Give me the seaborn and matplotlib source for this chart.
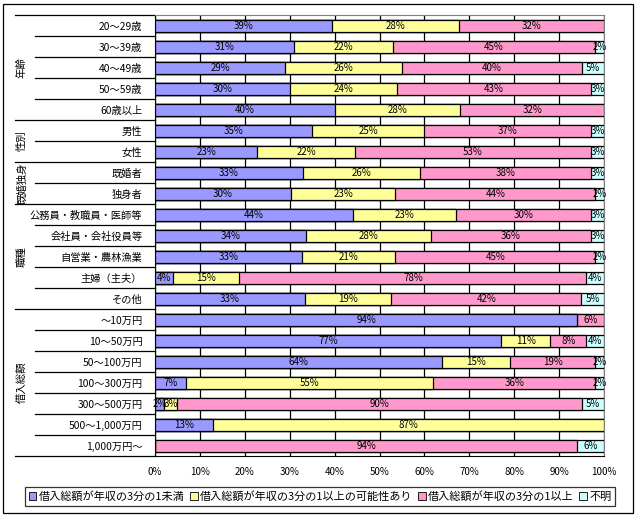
import matplotlib
matplotlib.use('Agg')
import matplotlib.pyplot as plt
import matplotlib.transforms as mtransforms
from matplotlib.patches import Patch, Rectangle
import numpy as np
import pandas as pd
import seaborn as sns

# row labels (top to bottom)
categories = ['20～29歳', '30～39歳', '40～49歳', '50～59歳', '60歳以上',
              '男性', '女性',
              '既婚者', '独身者',
              '公務員・教職員・医師等', '会社員・会社役員等', '自営業・農林漁業', '主婦（主夫）', 'その他',
              '～10万円', '10～50万円', '50～100万円', '100～300万円', '300～500万円', '500～1,000万円', '1,000万円～']

# group labels and the number of rows in each
groups = ['年齢', '性別', '既婚独身', '職種', '借入総額']
group_sizes = [5, 2, 2, 5, 7]

# percentages as printed on the bars
under_third = [39, 31, 29, 30, 40, 35, 23, 33, 30, 44, 34, 33, 4, 33, 94, 77, 64, 7, 2, 13, 0]
maybe_over = [28, 22, 26, 24, 28, 25, 22, 26, 23, 23, 28, 21, 15, 19, 0, 11, 15, 55, 3, 87, 0]
over_third = [32, 45, 40, 43, 32, 37, 53, 38, 44, 30, 36, 45, 78, 42, 6, 8, 19, 36, 90, 0, 94]
unknown = [0, 2, 5, 3, 0, 3, 3, 3, 2, 3, 3, 2, 4, 5, 0, 4, 2, 2, 5, 0, 6]

series_names = ['借入総額が年収の3分の1未満', '借入総額が年収の3分の1以上の可能性あり',
                '借入総額が年収の3分の1以上', '不明']
colors = ['#9999FF', '#FFFF99', '#FF99CC', '#CCFFFF']

df = pd.DataFrame({'category': categories, 'a': under_third, 'b': maybe_over,
                   'c': over_third, 'd': unknown})
vals = df[['a', 'b', 'c', 'd']].astype(float)
share = vals.div(vals.sum(axis=1), axis=0) * 100
cum = share.cumsum(axis=1)
for col in ['a', 'b', 'c', 'd']:
    df['cum_' + col] = cum[col]
    df['mid_' + col] = cum[col] - share[col] / 2

plt.rcParams['font.family'] = ['Noto Sans CJK JP', 'DejaVu Sans']

fig = plt.figure(figsize=(6.4, 5.2), dpi=100)
ax = fig.add_axes([0.242, 0.123, 0.702, 0.848])

# stacked bars drawn as overlapping cumulative bars
for col, c in zip(['d', 'c', 'b', 'a'], colors[::-1]):
    sns.barplot(data=df, x='cum_' + col, y='category', color=c, saturation=1,
                edgecolor='black', linewidth=0.9, width=0.57, orient='h', ax=ax, zorder=3)

# value labels
for i in range(len(df)):
    for col in ['a', 'b', 'c', 'd']:
        v = df.loc[i, col]
        if v > 0:
            ax.text(df.loc[i, 'mid_' + col], i, f'{v}%', ha='center', va='center',
                    fontsize=7, zorder=5)

ax.set_xlim(0, 100)
ax.set_ylim(len(df) - 0.5, -0.5)
ax.set_xticks(np.arange(0, 101, 10))
ax.set_xticklabels([f'{t}%' for t in range(0, 101, 10)], fontsize=7)
ax.set_xlabel('')
ax.set_ylabel('')
ax.tick_params(axis='x', length=0, pad=8)
ax.tick_params(axis='y', length=0, pad=9, labelsize=7.4)
ax.grid(axis='x', color='black', linewidth=0.9, zorder=0)
ax.set_axisbelow(True)
for s in ['top', 'right']:
    ax.spines[s].set_color('#808080')
for s in ['left', 'bottom']:
    ax.spines[s].set_color('black')

# category separators and group labels on the left
trans = mtransforms.blended_transform_factory(ax.transAxes, ax.transData)
bounds = np.cumsum([0] + group_sizes)
for k in range(len(df) + 1):
    y = k - 0.5
    x0 = -0.312 if k in bounds else -0.267
    ax.plot([x0, 0], [y, y], transform=trans, color='black', lw=0.9, clip_on=False)
for name, start, n in zip(groups, bounds[:-1], group_sizes):
    ax.text(-0.296, start + n / 2 - 0.5, name, transform=trans, rotation=90,
            ha='center', va='center', fontsize=7.5)

handles = [Patch(facecolor=c, edgecolor='black', linewidth=0.6) for c in colors]
leg = fig.legend(handles, series_names, loc='lower center', bbox_to_anchor=(0.5, 0.016),
                 ncol=4, fontsize=8, frameon=True, fancybox=False, edgecolor='black',
                 handlelength=0.7, handleheight=0.7, handletextpad=0.2, columnspacing=0.5,
                 borderpad=0.35)
leg.get_frame().set_linewidth(0.9)

fig.patches.append(Rectangle((0.005, 0.013), 0.984, 0.98, transform=fig.transFigure,
                             fill=False, edgecolor='black', linewidth=0.9))

fig.savefig('out.png', dpi=100)
